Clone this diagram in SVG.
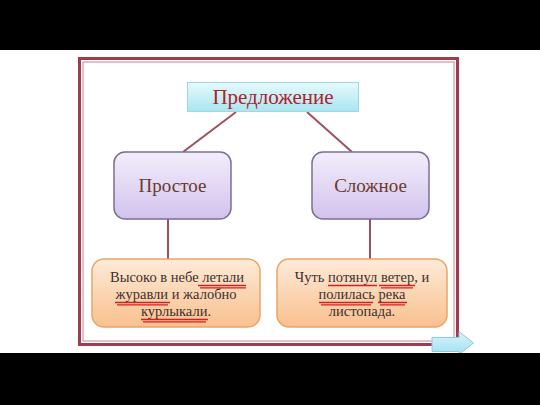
<svg xmlns="http://www.w3.org/2000/svg" width="540" height="405" viewBox="0 0 540 405">
<defs>
<linearGradient id="gTop" x1="0" y1="0" x2="0" y2="1"><stop offset="0" stop-color="#e6fafc"/><stop offset="1" stop-color="#a9e6f0"/></linearGradient>
<linearGradient id="gMid" x1="0" y1="0" x2="0" y2="1"><stop offset="0" stop-color="#f3eefc"/><stop offset="1" stop-color="#d2c2ec"/></linearGradient>
<linearGradient id="gBot" x1="0" y1="0" x2="0" y2="1"><stop offset="0" stop-color="#fdebd8"/><stop offset="1" stop-color="#f9c08e"/></linearGradient>
<linearGradient id="gArr" x1="0" y1="0" x2="0" y2="1"><stop offset="0" stop-color="#d8f4fc"/><stop offset="1" stop-color="#a4e0f2"/></linearGradient>
</defs>
<style>
.t{font-family:"Liberation Serif","Times New Roman",serif;text-anchor:middle}
.conn line{stroke:#a0505a;stroke-width:2}
.mid{fill:url(#gMid);stroke:#7d6d9a;stroke-width:1.5}
.bot{fill:url(#gBot);stroke:#eaa468;stroke-width:1.5}
.bt{font-size:14.5px;fill:#3e3030}
.ul{stroke:#d42020;stroke-width:1.3;fill:none}
</style>
<rect x="0" y="0" width="540" height="405" fill="#ffffff"/>
<rect x="0" y="0" width="540" height="50" fill="#000"/>
<rect x="79.5" y="58.5" width="378" height="286" fill="none" stroke="#9c3c4c" stroke-width="3"/>
<rect x="83" y="62" width="371" height="279" fill="none" stroke="#c98490" stroke-width="1"/>
<g id="connectors" class="conn">
<line x1="236" y1="112" x2="183" y2="152"/>
<line x1="307" y1="112" x2="352" y2="152"/>
<line x1="168" y1="219" x2="168" y2="259"/>
<line x1="370" y1="219" x2="370" y2="259"/>
</g>
<g id="n-root">
<rect x="187.5" y="82.5" width="171" height="29" fill="url(#gTop)" stroke="#9fd8e2" stroke-width="1"/>
<text class="t" x="273" y="104" font-size="21" fill="#b0222c">Предложение</text>
</g>
<g id="n-simple">
<rect class="mid" x="114" y="152" width="117" height="67" rx="11"/>
<text class="t" x="172.5" y="192" font-size="19" fill="#6b3a2c">Простое</text>
</g>
<g id="n-complex">
<rect class="mid" x="312" y="152" width="117" height="67" rx="11"/>
<text class="t" x="370.5" y="192" font-size="19" fill="#6b3a2c">Сложное</text>
</g>
<g id="n-ex1">
<rect class="bot" x="92" y="259" width="168" height="68" rx="12"/>
<text class="t bt" x="177" y="282">Высоко в небе летали</text>
<text class="t bt" x="176" y="299">журавли  и жалобно</text>
<text class="t bt" x="176" y="316">курлыкали.</text>
<path class="ul" d="M198 285.5H246M200 287.8H246M115 302.5H170M117 304.8H168M141 319.5H208M143 321.8H206"/>
</g>
<g id="n-ex2">
<rect class="bot" x="277" y="259" width="170" height="68" rx="12"/>
<text class="t bt" x="362" y="282">Чуть потянул ветер, и</text>
<text class="t bt" x="362" y="299">полилась  река</text>
<text class="t bt" x="362" y="316">листопада.</text>
<path class="ul" d="M328 285.5H377M379 285.5H415M381 287.8H413M319 302.5H373M321 304.8H371M378 302.5H407M380 304.8H405"/>
</g>
<g id="nav-arrow">
<path d="M432 337.5H459V331.5L473.5 343L459 354.5V351.5H432Z" fill="url(#gArr)" stroke="#8ccbe0" stroke-width="1"/>
</g>
<rect x="0" y="353" width="540" height="52" fill="#000"/>
</svg>
